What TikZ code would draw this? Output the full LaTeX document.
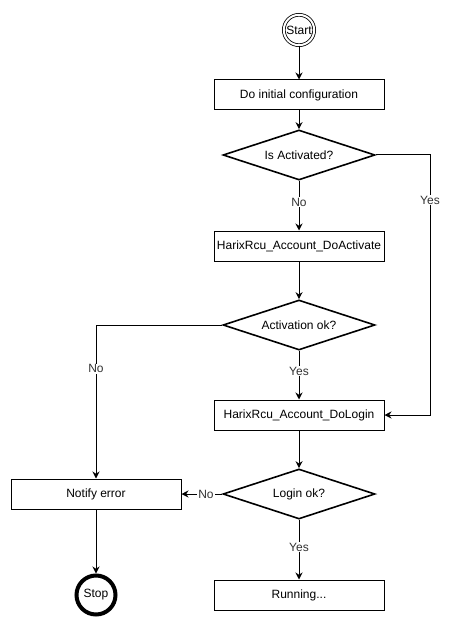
\documentclass[tikz,border=0pt]{standalone}
\usepackage{fontspec}
\setmainfont{Liberation Sans}
\usepackage{tikz}
\usetikzlibrary{positioning,shapes.geometric,arrows.meta}

\begin{document}
\begin{tikzpicture}[
      x=1pt,y=-1pt,
      font=\fontsize{12}{14}\selectfont,
      box/.style ={draw,line width=1pt,minimum width=170pt,minimum height=30pt,inner sep=0pt,align=center},
      dec/.style ={draw,diamond,line width=1.6pt,aspect=3.04,minimum width=152pt,minimum height=50pt,inner sep=0pt},
      arr/.style ={-{Stealth[length=7pt,width=7pt]},line width=1pt},
      lbl/.style ={fill=white,inner sep=1pt,text=black!80}]
      \useasboundingbox (0,0) rectangle (451,628);
      % Start / stop
      \node[draw,circle,double,line width=0.8pt,double distance=2pt,minimum size=30.4pt,inner sep=0pt] (start) at (299,30) {Start};
      \node[draw,circle,line width=4pt,minimum size=39pt,inner sep=0pt] (stop) at (96,595) {Stop};
      % Main column
      \node[box] (init)     at (299,95)  {Do initial configuration};
      \node[dec] (isact)    at (299,155) {Is Activated?};
      \node[box] (activate) at (299,246) {HarixRcu\_Account\_DoActivate};
      \node[dec] (actok)    at (299,325) {Activation ok?};
      \node[box] (login)    at (299,415) {HarixRcu\_Account\_DoLogin};
      \node[dec] (logok)    at (299,494) {Login ok?};
      \node[box] (running)  at (299,595) {Running...};
      % Error branch
      \node[box] (notify)   at (96,494)  {Notify error};
      \coordinate (yesc) at (430,155);

      % Connectors
      \draw[arr] (start) -- (init);
      \draw[arr] (init) -- (isact);
      \draw[arr] (isact) -- node[lbl,pos=0.43] {No} (activate);
      \draw[arr] (isact.east) -- (yesc) |- node[lbl,pos=0.087] {Yes} (login.east);
      \draw[arr] (activate) -- (actok);
      \draw[arr] (actok.west) -| node[lbl,pos=0.643] {No} (notify.north);
      \draw[arr] (actok) -- node[lbl,pos=0.42] {Yes} (login);
      \draw[arr] (login) -- (logok);
      \draw[arr] (logok.west) -- node[lbl,pos=0.4] {No} (notify.east);
      \draw[arr] (logok) -- node[lbl,pos=0.46] {Yes} (running);
      \draw[arr] (notify) -- (stop);
  \end{tikzpicture}
\end{document}
